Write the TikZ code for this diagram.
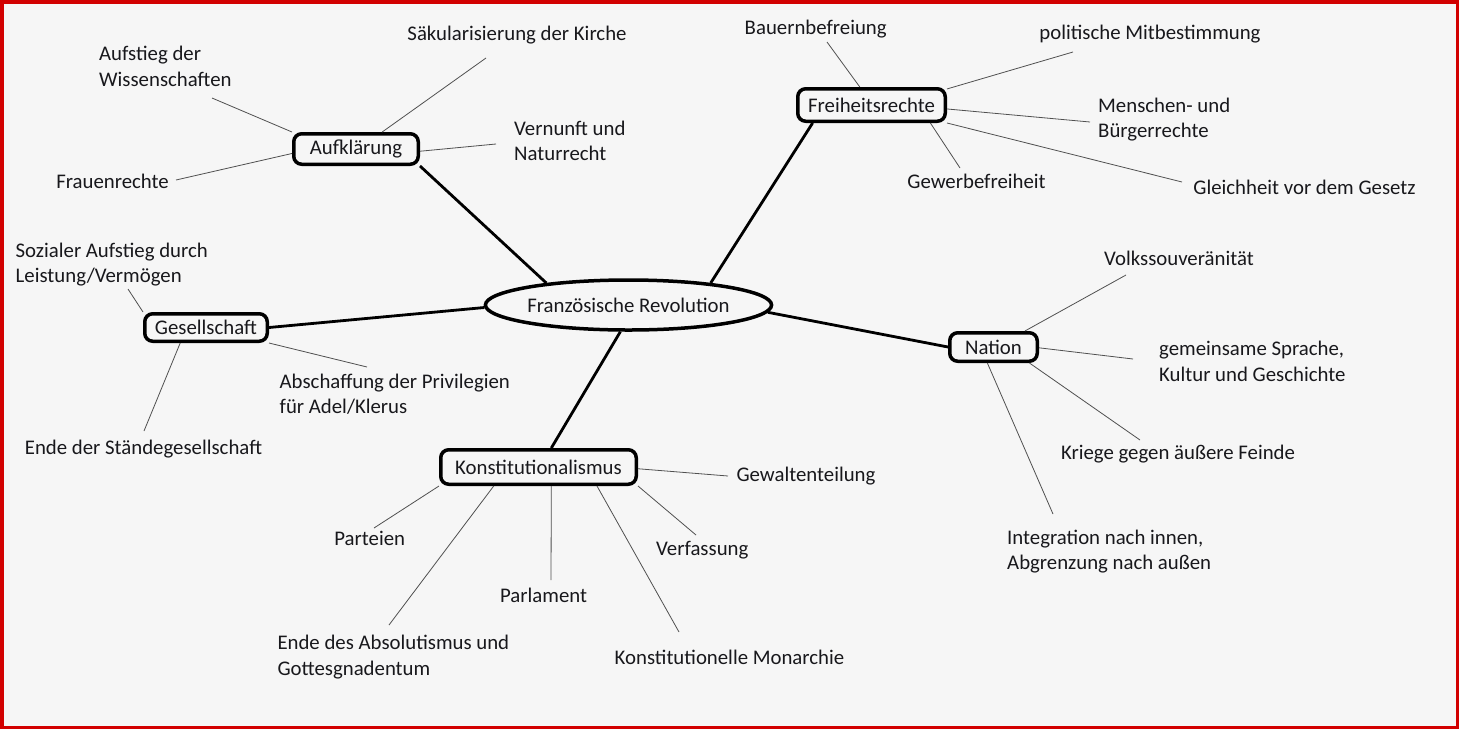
\documentclass[tikz,border=0pt]{standalone}
\usepackage{fontspec}
\setmainfont{Carlito}
\usetikzlibrary{shapes.geometric}
\definecolor{frame}{RGB}{210,0,0}
\definecolor{paper}{RGB}{246,246,246}
\definecolor{ink}{RGB}{24,24,28}
\definecolor{twig}{RGB}{80,80,80}
\begin{document}
\begin{tikzpicture}[x=1pt,y=-1pt,
		every node/.style={font=\fontsize{20.8}{25.5}\selectfont,text=ink},
		topic/.style={draw=black,line width=3.5pt,rounded corners=8pt,inner sep=0pt},
		leaf/.style={inner sep=0pt,text height=14pt,text depth=4pt,align=left},
		branch/.style={line width=2.8pt},
		twig/.style={draw=twig,line width=0.8pt}]
		\fill[frame] (0,0) rectangle (1459,729);
		\fill[paper] (3.5,3.5) rectangle (1455.5,725.5);

		\node[draw=black,line width=3.5pt,ellipse,inner sep=0pt,minimum width=235pt,minimum height=50pt] (rev) at (628.5,305) {Französische Revolution};
		\node[topic,minimum width=124.5pt,minimum height=30.5pt] (aufk) at (356,149) {Aufklärung};
		\node[topic,minimum width=147.5pt,minimum height=32.5pt] (freih) at (871.5,105) {Freiheitsrechte};
		\node[topic,minimum width=122.5pt,minimum height=27.5pt] (gesell) at (206,327.5) {Gesellschaft};
		\node[topic,minimum width=87.5pt,minimum height=28.5pt] (nation) at (993.5,347) {Nation};
		\node[topic,minimum width=195.5pt,minimum height=34.5pt] (konst) at (538.5,467) {Konstitutionalismus};

		\draw[branch] (rev.165) -- (aufk.south east);
		\draw[branch] (rev.15.5) -- (freih.-163);
		\draw[branch] (rev.181) -- (gesell.east);
		\draw[branch] (rev.-3.5) -- (nation.west);
		\draw[branch] (rev.-107.5) -- (konst.56);

		\node[leaf,anchor=west] (aufst) at (99,81) {Aufstieg der\\Wissenschaften};
		\node[leaf] (saek) at (517,35) {Säkularisierung der Kirche};
		\node[leaf,anchor=west] (vern) at (514,155.5) {Vernunft und\\Naturrecht};
		\node[leaf] (frauen) at (112.5,183) {Frauenrechte};
		\draw[twig] (aufk.north west) -- ([shift={(113,17)}]aufst.west);
		\draw[twig] (aufk.33.5) -- ([shift={(-31,23)}]saek.center);
		\draw[twig] (aufk.-2) -- ([shift={(-18,-11.5)}]vern.west);
		\draw[twig] (aufk.184) -- ([shift={(63.5,-3)}]frauen.center);

		\node[leaf] (bauern) at (815.7,29) {Bauernbefreiung};
		\node[leaf] (mitbest) at (1150,34) {politische Mitbestimmung};
		\node[leaf,anchor=west] (menschen) at (1098,132.5) {Menschen- und\\Bürgerrechte};
		\node[leaf] (gleich) at (1304.5,189) {Gleichheit vor dem Gesetz};
		\node[leaf] (gewerbe) at (976.5,183) {Gewerbefreiheit};
		\draw[twig] (freih.123) -- ([shift={(11.3,13)}]bauern.center);
		\draw[twig] (freih.12) -- ([shift={(-77,18)}]mitbest.center);
		\draw[twig] (freih.-3) -- ([shift={(-8,-10.5)}]menschen.west);
		\draw[twig] (freih.south east) -- ([shift={(-122.5,-7)}]gleich.center);
		\draw[twig] (freih.-17) -- ([shift={(-16.5,-15)}]gewerbe.center);

		\node[leaf,anchor=west] (sozial) at (15.5,277.5) {Sozialer Aufstieg durch\\Leistung/Vermögen};
		\node[leaf,anchor=west] (privileg) at (279.5,408.5) {Abschaffung der Privilegien\\für Adel/Klerus};
		\node[leaf] (staende) at (143.5,449) {Ende der Ständegesellschaft};
		\draw[twig] (gesell.north west) -- ([shift={(112.5,11.5)}]sozial.west);
		\draw[twig] (gesell.south east) -- ([shift={(87.5,-41.5)}]privileg.west);
		\draw[twig] (gesell.-149) -- ([shift={(0.5,-18)}]staende.center);

		\node[leaf] (gewalt) at (806,476) {Gewaltenteilung};
		\node[leaf] (verf) at (702.3,550) {Verfassung};
		\node[leaf] (monarch) at (729.5,659) {Konstitutionelle Monarchie};
		\node[leaf] (parlam) at (543.6,597) {Parlament};
		\node[leaf,anchor=west] (absol) at (277.3,670) {Ende des Absolutismus und\\Gottesgnadentum};
		\node[leaf] (parteien) at (369.7,540) {Parteien};
		\draw[twig] (konst.-1) -- ([shift={(-78,0)}]gewalt.center);
		\draw[twig] (konst.south east) -- ([shift={(-6.3,-15)}]verf.center);
		\draw[twig] (konst.-18) -- ([shift={(-50.5,-27)}]monarch.center);
		\draw[twig] (konst.-56) -- ([shift={(7.4,-17)}]parlam.center);
		\draw[twig] (konst.-157) -- ([shift={(111.7,-45)}]absol.west);
		\draw[twig] (konst.south west) -- ([shift={(4.3,-12)}]parteien.center);

		\node[leaf] (volk) at (1179,260) {Volkssouveränität};
		\node[leaf,anchor=west] (sprache) at (1159,376) {gemeinsame Sprache,\\Kultur und Geschichte};
		\node[leaf] (kriege) at (1178,454) {Kriege gegen äußere Feinde};
		\node[leaf,anchor=west] (integr) at (1007,564.5) {Integration nach innen,\\Abgrenzung nach außen};
		\draw[twig] (nation.27) -- ([shift={(-53,15)}]volk.center);
		\draw[twig] (nation.-1) -- ([shift={(-26,-17)}]sprache.west);
		\draw[twig] (nation.-24) -- ([shift={(-38,-14)}]kriege.center);
		\draw[twig] (nation.-111) -- ([shift={(46,-50.5)}]integr.west);
		\end{tikzpicture}
\end{document}
